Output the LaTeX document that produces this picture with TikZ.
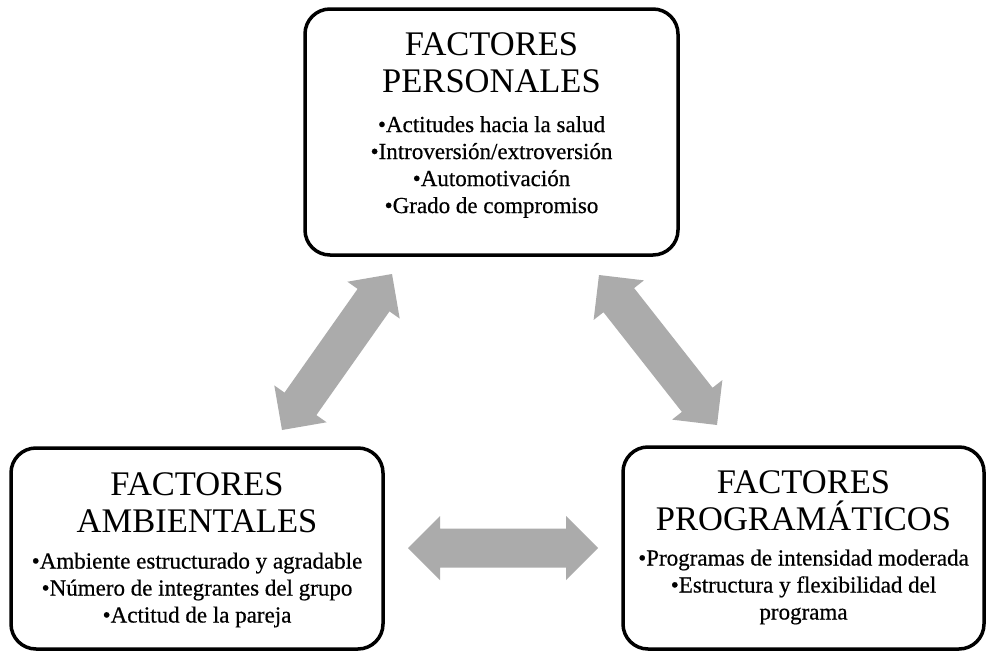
\documentclass[tikz,border=0pt]{standalone}
\usepackage{fontspec}
\setmainfont{Liberation Serif}
\newfontface\itemface{Liberation Serif}[FakeBold=0.5]
\usetikzlibrary{calc}
\definecolor{arrowgray}{HTML}{ABABAB}
\newcommand\dblblockarrow[2]{%
  \coordinate (#1b) at ($(#1)!32pt!(#2)$);
  \coordinate (#2b) at ($(#2)!32pt!(#1)$);
  \fill[arrowgray] (#1)
    -- ($(#1b)!32pt!90:(#2)$) -- ($(#1b)!19.5pt!90:(#2)$)
    -- ($(#2b)!19.5pt!-90:(#1)$) -- ($(#2b)!32pt!-90:(#1)$)
    -- (#2)
    -- ($(#2b)!32pt!90:(#1)$) -- ($(#2b)!19.5pt!90:(#1)$)
    -- ($(#1b)!19.5pt!-90:(#2)$) -- ($(#1b)!32pt!-90:(#2)$)
    -- cycle;
}
\begin{document}
\begin{tikzpicture}[x=1pt,y=-1pt,
  factorbox/.style={draw=black, line width=3.5pt, rounded corners=25pt, fill=white, inner sep=0pt},
  titletext/.style={align=center, inner sep=0pt, font=\fontsize{34.5}{37}\selectfont},
  itemtext/.style={align=center, inner sep=0pt, font=\itemface\fontsize{23}{27}\selectfont}]
\useasboundingbox (0,0) rectangle (988,653);
\fill[white] (0,0) rectangle (988,653);

% boxes
\node[factorbox, minimum width=373pt, minimum height=246pt] (pers) at (491.5,132) {};
\node[factorbox, minimum width=372pt, minimum height=201pt] (amb) at (197,548.5) {};
\node[factorbox, minimum width=361pt, minimum height=202pt] (prog) at (803.5,548) {};

% texts
\node[titletext] (perst) at (491.5,63) {FACTORES\\PERSONALES};
\node[itemtext] (persi) at (491.5,167) {•Actitudes hacia la salud\\•Introversión/extroversión\\•Automotivación\\•Grado de compromiso};

\node[titletext] (ambt) at (197,503) {FACTORES\\AMBIENTALES};
\node[itemtext] (ambi) at (197,590) {•Ambiente estructurado y agradable\\•Número de integrantes del grupo\\•Actitud de la pareja};

\node[titletext] (progt) at (803.5,501) {FACTORES\\PROGRAMÁTICOS};
\node[itemtext] (progi) at (803.5,587) {•Programas de intensidad moderada\\•Estructura y flexibilidad del\\programa};

% arrows
\coordinate (la1) at (282,430);
\coordinate (la2) at (392,274);
\coordinate (ra1) at (599,275);
\coordinate (ra2) at (717,425);
\coordinate (ha1) at (408,548);
\coordinate (ha2) at (598,548);
\dblblockarrow{la1}{la2}
\dblblockarrow{ra1}{ra2}
\dblblockarrow{ha1}{ha2}
\end{tikzpicture}
\end{document}
